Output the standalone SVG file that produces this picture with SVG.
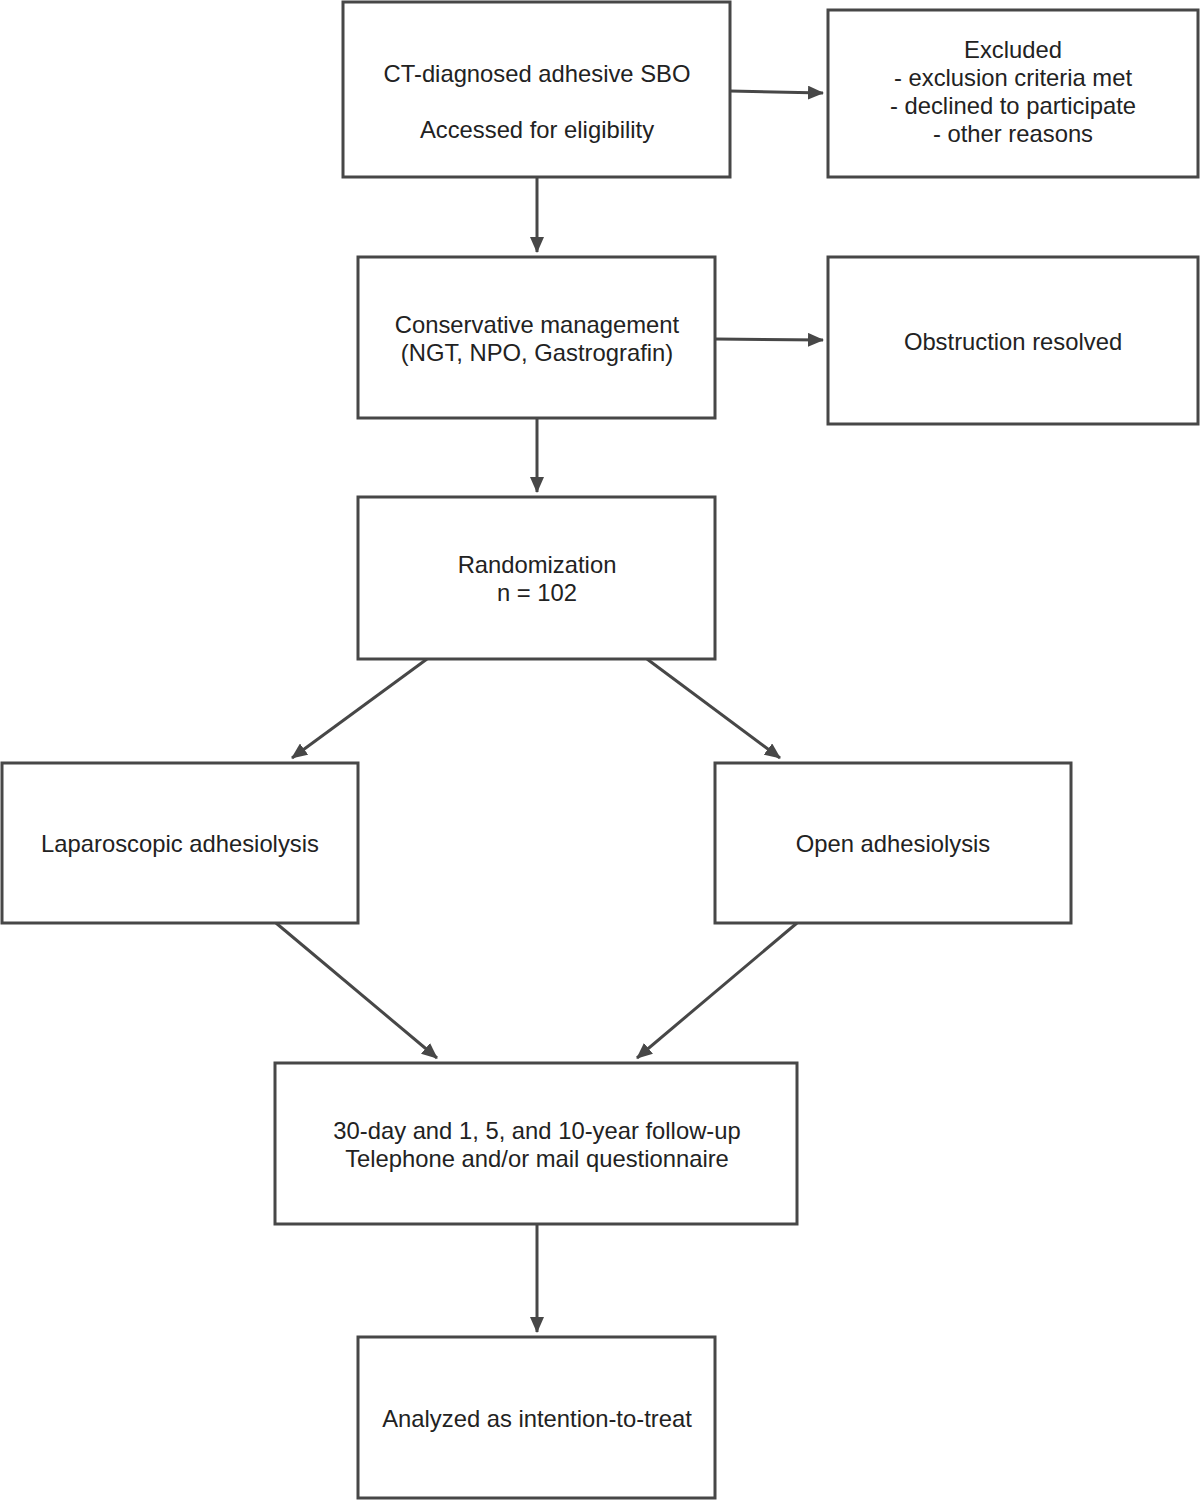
<svg xmlns="http://www.w3.org/2000/svg" width="1200" height="1500" viewBox="0 0 1200 1500">
<defs>
<marker id="arr" markerUnits="userSpaceOnUse" markerWidth="16" markerHeight="14" refX="15" refY="7" orient="auto">
<path d="M0,0 L16,7 L0,14 z" fill="#474747"/>
</marker>
<style>
.box{fill:#fff;stroke:#474747;stroke-width:3}
.t{font-family:"Liberation Sans",Arial,sans-serif;font-size:23.8px;fill:#222;text-anchor:middle}
.c{stroke:#474747;stroke-width:3;fill:none;marker-end:url(#arr)}
</style>
</defs>
<rect width="1200" height="1500" fill="#fff"/>
<g id="connectors">
<line class="c" x1="537" y1="177" x2="537" y2="252"/>
<line class="c" x1="730" y1="91" x2="823" y2="93"/>
<line class="c" x1="715" y1="339" x2="823" y2="340"/>
<line class="c" x1="537" y1="418" x2="537" y2="492"/>
<line class="c" x1="427" y1="659" x2="292" y2="758"/>
<line class="c" x1="647" y1="659" x2="780" y2="758"/>
<line class="c" x1="276" y1="923" x2="437" y2="1058"/>
<line class="c" x1="797" y1="923" x2="637" y2="1058"/>
<line class="c" x1="537" y1="1224" x2="537" y2="1332"/>
</g>
<g id="n-ct">
<rect class="box" x="343" y="2" width="387" height="175"/>
<text class="t" x="537" y="82">CT-diagnosed adhesive SBO</text>
<text class="t" x="537" y="138">Accessed for eligibility</text>
</g>
<g id="n-excluded">
<rect class="box" x="828" y="10" width="370" height="167"/>
<text class="t" x="1013" y="58">Excluded</text>
<text class="t" x="1013" y="86">- exclusion criteria met</text>
<text class="t" x="1013" y="114">- declined to participate</text>
<text class="t" x="1013" y="142">- other reasons</text>
</g>
<g id="n-conservative">
<rect class="box" x="358" y="257" width="357" height="161"/>
<text class="t" x="537" y="333">Conservative management</text>
<text class="t" x="537" y="361">(NGT, NPO, Gastrografin)</text>
</g>
<g id="n-resolved">
<rect class="box" x="828" y="257" width="370" height="167"/>
<text class="t" x="1013" y="350">Obstruction resolved</text>
</g>
<g id="n-random">
<rect class="box" x="358" y="497" width="357" height="162"/>
<text class="t" x="537" y="573">Randomization</text>
<text class="t" x="537" y="601">n = 102</text>
</g>
<g id="n-lap">
<rect class="box" x="2" y="763" width="356" height="160"/>
<text class="t" x="180" y="852">Laparoscopic adhesiolysis</text>
</g>
<g id="n-open">
<rect class="box" x="715" y="763" width="356" height="160"/>
<text class="t" x="893" y="852">Open adhesiolysis</text>
</g>
<g id="n-followup">
<rect class="box" x="275" y="1063" width="522" height="161"/>
<text class="t" x="537" y="1139">30-day and 1, 5, and 10-year follow-up</text>
<text class="t" x="537" y="1167">Telephone and/or mail questionnaire</text>
</g>
<g id="n-analyzed">
<rect class="box" x="358" y="1337" width="357" height="161"/>
<text class="t" x="537" y="1427">Analyzed as intention-to-treat</text>
</g>
</svg>
